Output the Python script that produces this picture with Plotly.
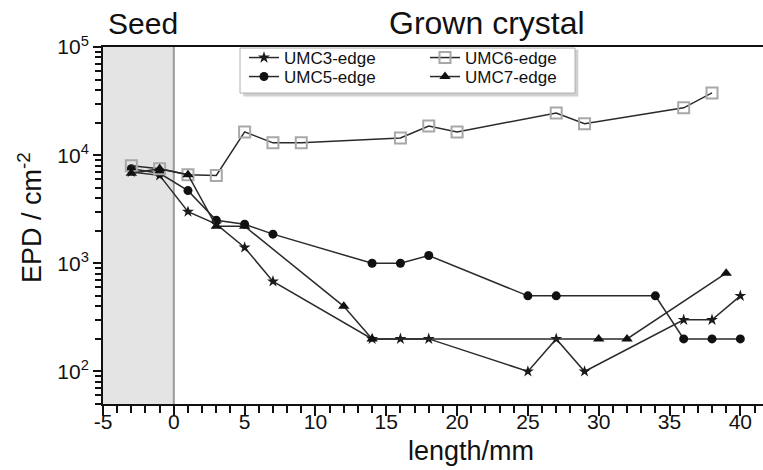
import math
import plotly.graph_objects as go

# ---- data ----
umc3_x = [-3, -1, 1, 3, 5, 7, 14, 16, 18, 25, 27, 29, 36, 38, 40]
umc3_y = [7000, 6500, 3000, 2300, 1400, 680, 200, 200, 200, 100, 200, 100, 300, 300, 500]

umc5_x = [-3, -1, 1, 3, 5, 7, 14, 16, 18, 25, 27, 34, 36, 38, 40]
umc5_y = [7500, 6800, 4700, 2500, 2300, 1860, 1000, 1000, 1180, 500, 500, 500, 200, 200, 200]

umc6_x = [-3, -1, 1, 3, 5, 7, 9, 16, 18, 20, 27, 29, 36, 38]
umc6_y = [8000, 7500, 6600, 6500, 16400, 13000, 13000, 14400, 18600, 16400, 24500, 19500, 27400, 37600]

umc7_x = [-3, -1, 1, 3, 5, 12, 14, 30, 32, 39]
umc7_y = [6800, 7500, 6600, 2200, 2200, 400, 200, 200, 200, 810]

y_tick_vals = [100, 1000, 10000, 100000]
y_tick_text = ["10<sup>2</sup>", "10<sup>3</sup>", "10<sup>4</sup>", "10<sup>5</sup>"]
x_tick_vals = [-5, 0, 5, 10, 15, 20, 25, 30, 35, 40]
x_tick_text = ["-5", "0", "5", "10", "15", "20", "25", "30", "35", "40"]

seed_range = [-5, 0]
x_range = [-5, 41.6]
y_range_vals = [50, 100000]
minor_y = [m * 10 ** e for e in range(1, 5) for m in range(2, 10) if 50 <= m * 10 ** e <= 100000]

FONT = "Liberation Sans, Arial, sans-serif"
LINE = "#2a2a2a"

fig = go.Figure()

fig.add_trace(go.Scatter(x=umc3_x, y=umc3_y, name="UMC3-edge", mode="lines+markers",
                         line=dict(color=LINE, width=1.5),
                         marker=dict(symbol="star", size=9, color="#1a1a1a"),
                         legend="legend"))
fig.add_trace(go.Scatter(x=umc5_x, y=umc5_y, name="UMC5-edge", mode="lines+markers",
                         line=dict(color=LINE, width=1.5),
                         marker=dict(symbol="circle", size=9, color="#111111"),
                         legend="legend2"))
fig.add_trace(go.Scatter(x=umc6_x, y=umc6_y, name="UMC6-edge", mode="lines+markers",
                         line=dict(color=LINE, width=1.5),
                         marker=dict(symbol="square-open", size=11, color="#a8a8a8",
                                     line=dict(width=2)),
                         legend="legend3"))
fig.add_trace(go.Scatter(x=umc7_x, y=umc7_y, name="UMC7-edge", mode="lines+markers",
                         line=dict(color=LINE, width=1.5),
                         marker=dict(symbol="triangle-up", size=10, color="#111111"),
                         legend="legend4"))

yr = [math.log10(y_range_vals[0]), math.log10(y_range_vals[1])]

# seed region shading and boundary line
fig.add_shape(type="rect", xref="x", yref="paper", x0=seed_range[0], x1=seed_range[1],
              y0=0, y1=1, fillcolor="#e4e4e4", line=dict(width=0), layer="below")
fig.add_shape(type="line", xref="x", yref="paper", x0=seed_range[1], x1=seed_range[1],
              y0=0, y1=1, line=dict(color="#9a9a9a", width=2), layer="below")

# legend box (shadow + frame)
lx0, lx1, ly0, ly1 = 0.2076, 0.7152, 0.871, 0.997
fig.add_shape(type="rect", xref="paper", yref="paper", x0=lx0 + 0.005, x1=lx1 + 0.005,
              y0=ly0 - 0.010, y1=ly1 - 0.005, fillcolor="#d0d0d0", line=dict(width=0))
fig.add_shape(type="rect", xref="paper", yref="paper", x0=lx0, x1=lx1, y0=ly0, y1=ly1,
              fillcolor="white", line=dict(color="#b0b0b0", width=1))


def leg(x, y):
    return dict(x=x, y=y, xanchor="left", yanchor="middle", bgcolor="rgba(0,0,0,0)",
                font=dict(size=17, family=FONT), tracegroupgap=0, itemwidth=30,
                borderwidth=0)


col1, col2 = (244 - 103) / 660, (425 - 103) / 660
row1, row2 = 1 - (58 - 47) / 357, 1 - (77 - 47) / 357

fig.update_layout(
    width=763, height=470,
    margin=dict(l=103, r=0, t=47, b=66, autoexpand=False),
    paper_bgcolor="white", plot_bgcolor="white",
    font=dict(family=FONT, color="#111", size=21),
    showlegend=True,
    legend=leg(col1, row1),
    legend2=leg(col1, row2),
    legend3=leg(col2, row1),
    legend4=leg(col2, row2),
    xaxis=dict(range=x_range, tickmode="array", tickvals=x_tick_vals, ticktext=x_tick_text,
               ticks="outside", ticklen=10, tickwidth=2, tickcolor="#111",
               showline=True, linewidth=2, linecolor="#111", mirror=True,
               showgrid=False, zeroline=False, automargin=False,
               ticklabelstandoff=-12,
               tickfont=dict(size=21, family=FONT),
               minor=dict(dtick=1, tick0=0, ticks="outside", ticklen=7, tickwidth=2,
                          tickcolor="#111", showgrid=False)),
    yaxis=dict(type="log", range=yr, tickmode="array", tickvals=y_tick_vals,
               ticktext=y_tick_text,
               ticks="outside", ticklen=8, tickwidth=2, tickcolor="#111",
               showline=True, linewidth=2, linecolor="#111",
               showgrid=False, zeroline=False, automargin=False,
               tickfont=dict(size=21, family=FONT),
               minor=dict(tickmode="array", tickvals=minor_y, ticks="outside", ticklen=6,
                          tickwidth=1.5, tickcolor="#111", showgrid=False)),
    yaxis2=dict(type="log", range=yr, overlaying="y", side="right",
                tickmode="array", tickvals=y_tick_vals[:3],
                ticks="inside", ticklen=5, tickwidth=1.5, tickcolor="#111",
                showticklabels=False, showline=True, linewidth=1, linecolor="#e0e0e0",
                showgrid=False, zeroline=False, automargin=False),
    annotations=[
        dict(text="Seed", xref="paper", yref="paper", x=(143 - 103) / 660, y=1.067,
             xanchor="center", yanchor="middle",
             showarrow=False, font=dict(size=30, family=FONT)),
        dict(text="Grown crystal", xref="paper", yref="paper", x=(487 - 103) / 660, y=1.067,
             xanchor="center", yanchor="middle",
             showarrow=False, font=dict(size=32, family=FONT)),
        dict(text="EPD / cm<sup>-2</sup>", xref="paper", yref="paper", x=(30 - 103) / 660,
             y=0.521, xanchor="center", yanchor="middle",
             textangle=-90, showarrow=False, font=dict(size=27, family=FONT)),
        dict(text="length/mm", xref="paper", yref="paper", x=(471 - 103) / 660, y=-0.132,
             xanchor="center", yanchor="middle",
             showarrow=False, font=dict(size=27, family=FONT)),
    ],
)

fig.write_html("out.html", config={"displayModeBar": False},
               post_script="document.body.style.margin='0';document.body.style.overflow='hidden';")
